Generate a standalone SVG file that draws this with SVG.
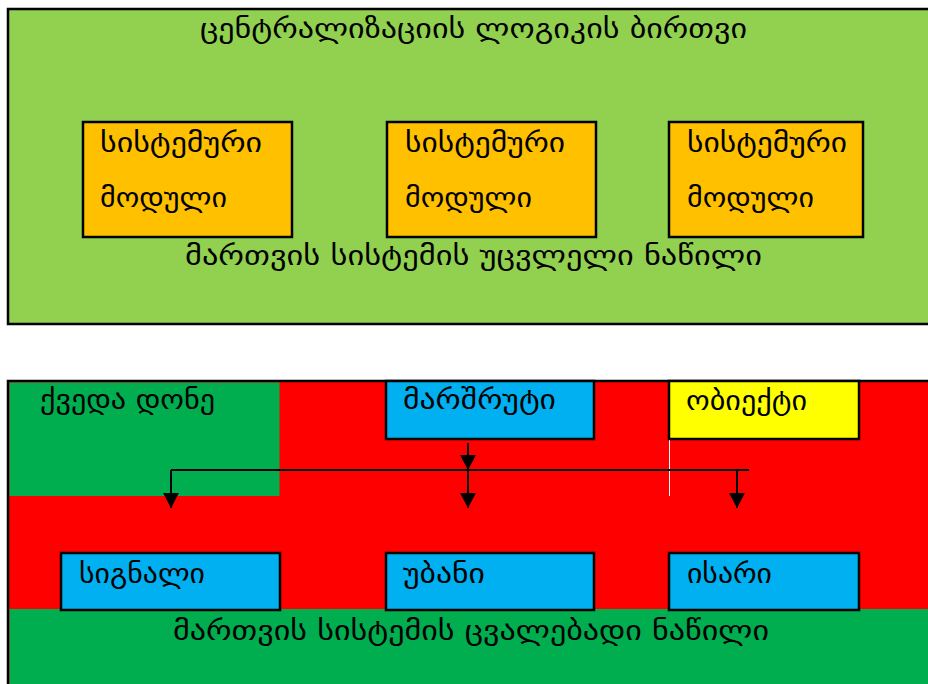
<svg xmlns="http://www.w3.org/2000/svg" width="928" height="684" viewBox="0 0 928 684">
<defs>
<style>
text{font-family:"DejaVu Sans","Noto Sans",sans-serif;font-size:27px;fill:#000}
.b{stroke:#000;stroke-width:2.5}
.c{stroke:#000;stroke-width:2;fill:none}
</style>
<marker id="ah" markerWidth="15" markerHeight="16" refX="15" refY="8" orient="auto" markerUnits="userSpaceOnUse" viewBox="0 0 15 16">
<path d="M0,0 L15,8 L0,16 Z" fill="#000"/>
</marker>
</defs>
<rect width="928" height="684" fill="#fff"/>
<g id="top-section">
<rect x="8" y="9" width="925" height="315" fill="#92D050" class="b"/>
<text x="200" y="38" textLength="547" lengthAdjust="spacingAndGlyphs">ცენტრალიზაციის ლოგიკის ბირთვი</text>
<text x="185" y="265" textLength="577" lengthAdjust="spacingAndGlyphs">მართვის სისტემის უცვლელი ნაწილი</text>
</g>
<g id="module1">
<rect x="83" y="122" width="209" height="115" fill="#FFC000" class="b"/>
<text x="100" y="152" textLength="162" lengthAdjust="spacingAndGlyphs">სისტემური</text>
<text x="100" y="207" textLength="127" lengthAdjust="spacingAndGlyphs">მოდული</text>
</g>
<g id="module2">
<rect x="387" y="122" width="209" height="115" fill="#FFC000" class="b"/>
<text x="405" y="152" textLength="160" lengthAdjust="spacingAndGlyphs">სისტემური</text>
<text x="405" y="207" textLength="127" lengthAdjust="spacingAndGlyphs">მოდული</text>
</g>
<g id="module3">
<rect x="669" y="122" width="194" height="115" fill="#FFC000" class="b"/>
<text x="687" y="152" textLength="160" lengthAdjust="spacingAndGlyphs">სისტემური</text>
<text x="687" y="207" textLength="127" lengthAdjust="spacingAndGlyphs">მოდული</text>
</g>
<g id="bottom-section">
<rect x="8" y="381" width="925" height="310" fill="#FF0000" class="b"/>
<rect x="9.5" y="382.5" width="270" height="113.5" fill="#00AD4F"/>
<rect x="9.5" y="609" width="925" height="80" fill="#00AD4F"/>
<line x1="669.5" y1="439" x2="669.5" y2="496" stroke="#fff" stroke-width="1"/>
<text x="40" y="409" textLength="175" lengthAdjust="spacingAndGlyphs">ქვედა დონე</text>
<text x="173" y="640" textLength="596" lengthAdjust="spacingAndGlyphs">მართვის სისტემის ცვალებადი ნაწილი</text>
</g>
<g id="route">
<rect x="386" y="381" width="208" height="58" fill="#00B0F0" class="b"/>
<text x="403" y="409" textLength="153" lengthAdjust="spacingAndGlyphs">მარშრუტი</text>
</g>
<g id="object">
<rect x="669" y="381" width="190" height="58" fill="#FFFF00" class="b"/>
<text x="686" y="410" textLength="121" lengthAdjust="spacingAndGlyphs">ობიექტი</text>
</g>
<g id="signal">
<rect x="61" y="553" width="219" height="57" fill="#00B0F0" class="b"/>
<text x="79" y="583" textLength="126" lengthAdjust="spacingAndGlyphs">სიგნალი</text>
</g>
<g id="section">
<rect x="386" y="553" width="208" height="57" fill="#00B0F0" class="b"/>
<text x="403" y="583" textLength="82" lengthAdjust="spacingAndGlyphs">უბანი</text>
</g>
<g id="arrow">
<rect x="669" y="553" width="190" height="57" fill="#00B0F0" class="b"/>
<text x="687" y="583" textLength="85" lengthAdjust="spacingAndGlyphs">ისარი</text>
</g>
<g id="connectors">
<line x1="468" y1="443" x2="468" y2="470" class="c" marker-end="url(#ah)"/>
<line x1="171" y1="470" x2="749" y2="470" class="c"/>
<line x1="171" y1="470" x2="171" y2="508" class="c" marker-end="url(#ah)"/>
<line x1="468" y1="470" x2="468" y2="508" class="c" marker-end="url(#ah)"/>
<line x1="737" y1="470" x2="737" y2="508" class="c" marker-end="url(#ah)"/>
</g>
</svg>
